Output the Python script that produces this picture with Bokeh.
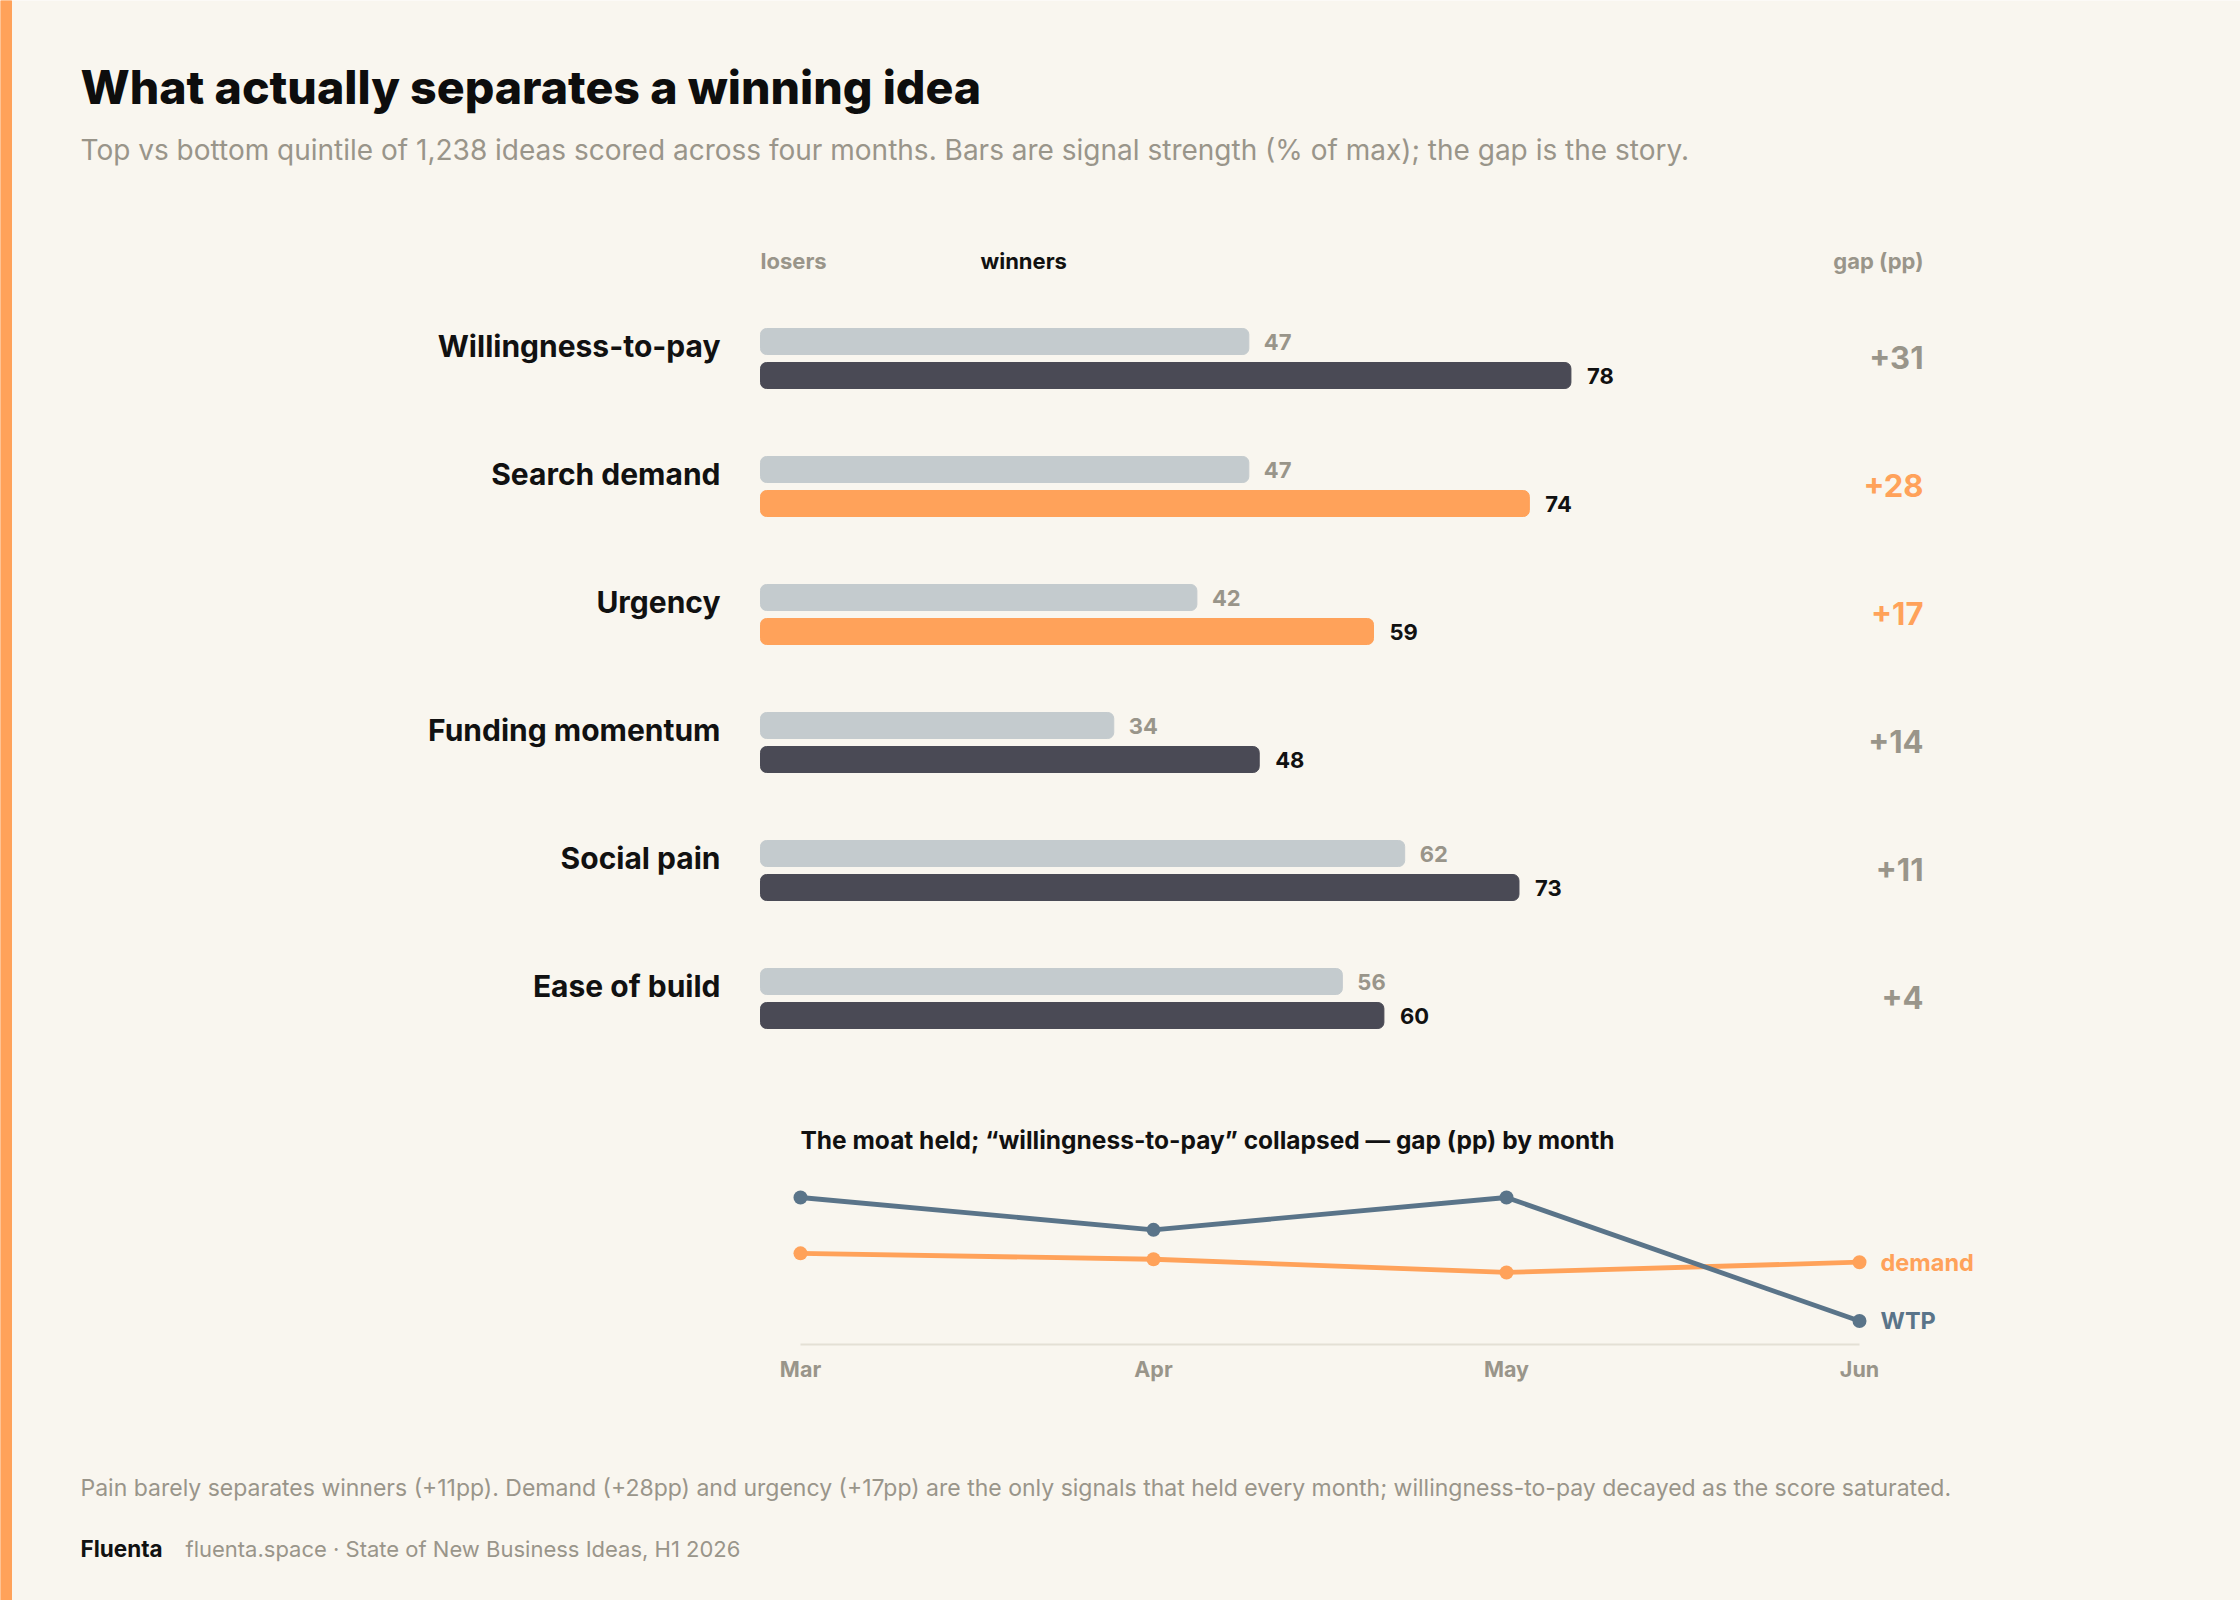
from bokeh.plotting import figure
from bokeh.models import ColumnDataSource, Range1d
from bokeh.core.properties import value
from bokeh.embed import file_html
from bokeh.resources import INLINE

# ---- data ----
signals = ["Willingness-to-pay", "Search demand", "Urgency",
           "Funding momentum", "Social pain", "Ease of build"]
losers = [47, 47, 42, 34, 62, 56]
winners = [78, 74, 59, 48, 73, 60]
gap_pp = [31, 28, 17, 14, 11, 4]
highlight = [False, True, True, False, False, False]

months = ["Mar", "Apr", "May", "Jun"]
gap_wtp = [50, 39, 50, 8]
gap_demand = [31, 29, 24.5, 28]

# ---- style ----
BG = "#f9f6ef"
ORANGE = "#ffa25a"
DARK = "#4a4a55"
LIGHT_BAR = "#c4cbce"
GREY_TXT = "#99958a"
INK = "#111111"
STEEL = "#5a7489"
FONT = value("Inter")
HEAVY = value("'Inter ExtraBold', Inter")

W, H = 2240, 1600

p = figure(width=W, height=H, x_range=Range1d(0, W), y_range=Range1d(H, 0),
           output_backend="svg", toolbar_location=None, min_border=0,
           x_axis_location=None, y_axis_location=None,
           outline_line_color=None, background_fill_color=BG,
           border_fill_color=BG)
p.grid.grid_line_color = None

# scales for the bar panel (score 0-100, one unit per signal row)
BAR_X0, BAR_PX = 760, 10.39
ROW_Y0, ROW_PX = 358, 128
p.extra_x_ranges["score"] = Range1d(-BAR_X0 / BAR_PX, (W - BAR_X0) / BAR_PX)
p.extra_y_ranges["row"] = Range1d((H - ROW_Y0) / ROW_PX, -ROW_Y0 / ROW_PX)

# scales for the monthly gap panel
MON_X0, MON_PX = 800, 353
GAP_Y0, GAP_PX = 1344, 2.94
p.extra_x_ranges["month"] = Range1d(-MON_X0 / MON_PX, (W - MON_X0) / MON_PX)
p.extra_y_ranges["gap"] = Range1d(-(H - GAP_Y0) / GAP_PX, GAP_Y0 / GAP_PX)

# accent strip on the left edge
p.quad(left=0, right=11, bottom=H, top=0, color=ORANGE)

# headline
p.text(x=[80], y=[86], text=["What actually separates a winning idea"],
       text_font=HEAVY, text_font_style="bold", text_font_size=value("46.5px"),
       text_color="#0d0d0d", text_baseline="middle")
p.text(x=[80], y=[149],
       text=["Top vs bottom quintile of 1,238 ideas scored across four months. "
             "Bars are signal strength (% of max); the gap is the story."],
       text_font=FONT, text_font_size=value("28px"), text_color=GREY_TXT,
       text_baseline="middle")

# column headers
hdr = dict(text_font=FONT, text_font_style="bold", text_font_size=value("22px"),
           text_baseline="middle")
p.text(x=[760], y=[260], text=["losers"], text_color=GREY_TXT, **hdr)
p.text(x=[980], y=[260], text=["winners"], text_color=INK, **hdr)
p.text(x=[1923], y=[260], text=["gap (pp)"], text_color=GREY_TXT,
       text_align="right", **hdr)

# bars
rows = list(range(len(signals)))
OFF = 17 / ROW_PX
src = ColumnDataSource(dict(
    row=rows,
    label_y=[r - 13 / ROW_PX for r in rows],
    gap_y=[r - 1.5 / ROW_PX for r in rows],
    lose_y=[r - OFF for r in rows],
    win_y=[r + OFF for r in rows],
    signal=signals,
    losers=losers,
    winners=winners,
    lose_txt=[str(v) for v in losers],
    win_txt=[str(v) for v in winners],
    gap_txt=["+%d" % g for g in gap_pp],
    win_color=[ORANGE if h else DARK for h in highlight],
    gap_color=[ORANGE if h else GREY_TXT for h in highlight],
))
bar_h = 26 / ROW_PX
p.hbar(y="lose_y", left=0, right="losers", height=bar_h, color=LIGHT_BAR,
       border_radius=6, x_range_name="score", y_range_name="row", source=src)
p.hbar(y="win_y", left=0, right="winners", height=bar_h, color="win_color",
       border_radius=6, x_range_name="score", y_range_name="row", source=src)

p.text(x=0, y="label_y", text="signal", x_offset=-40, text_align="right",
       text_baseline="middle", text_font=FONT, text_font_style="bold",
       text_font_size=value("30px"), text_color=INK,
       x_range_name="score", y_range_name="row", source=src)
p.text(x="losers", y="lose_y", text="lose_txt", x_offset=15,
       text_baseline="middle", text_font=FONT, text_font_style="bold",
       text_font_size=value("22px"), text_color=GREY_TXT,
       x_range_name="score", y_range_name="row", source=src)
p.text(x="winners", y="win_y", text="win_txt", x_offset=16,
       text_baseline="middle", text_font=FONT, text_font_style="bold",
       text_font_size=value("22px"), text_color=INK,
       x_range_name="score", y_range_name="row", source=src)
p.text(x=1923, y="gap_y", text="gap_txt", text_align="right",
       text_baseline="middle", text_font=FONT, text_font_style="bold",
       text_font_size=value("31px"), text_color="gap_color",
       y_range_name="row", source=src)

# monthly gap panel
p.text(x=[800], y=[1139],
       text=["The moat held; \u201cwillingness-to-pay\u201d collapsed \u2014 gap (pp) by month"],
       text_font=FONT, text_font_style="bold", text_font_size=value("24.5px"),
       text_color=INK, text_baseline="middle")

msrc = ColumnDataSource(dict(m=list(range(len(months))), month=months,
                             wtp=gap_wtp, demand=gap_demand))
p.segment(x0=0, x1=len(months) - 1, y0=0, y1=0, line_color="#e4e0d5",
          line_width=2, x_range_name="month", y_range_name="gap")
p.text(x="m", y=0, text="month", y_offset=24, text_align="center",
       text_baseline="middle", text_font=FONT, text_font_style="bold",
       text_font_size=value("21.5px"), text_color=GREY_TXT,
       x_range_name="month", y_range_name="gap", source=msrc)

for col, color, name in (("demand", ORANGE, "demand"), ("wtp", STEEL, "WTP")):
    p.line(x="m", y=col, line_color=color, line_width=4.8,
           x_range_name="month", y_range_name="gap", source=msrc)
    p.scatter(x="m", y=col, size=14, fill_color=color, line_color=None,
              x_range_name="month", y_range_name="gap", source=msrc)
    last = gap_wtp[-1] if col == "wtp" else gap_demand[-1]
    p.text(x=[len(months) - 1], y=[last], text=[name], x_offset=21,
           text_baseline="middle", text_font=FONT, text_font_style="bold",
           text_font_size=value("23.5px"), text_color=color,
           x_range_name="month", y_range_name="gap")

# footer
p.text(x=[80], y=[1487],
       text=["Pain barely separates winners (+11pp). Demand (+28pp) and urgency (+17pp) "
             "are the only signals that held every month; willingness-to-pay decayed "
             "as the score saturated."],
       text_font=FONT, text_font_size=value("23px"), text_color=GREY_TXT,
       text_baseline="middle")
p.text(x=[80], y=[1548], text=["Fluenta"], text_font=FONT,
       text_font_style="bold", text_font_size=value("22.5px"), text_color=INK,
       text_baseline="middle")
p.text(x=[185], y=[1548],
       text=["fluenta.space \u00b7 State of New Business Ideas, H1 2026"],
       text_font=FONT, text_font_size=value("22px"), text_color=GREY_TXT,
       text_baseline="middle")

open("out.html", "w").write(file_html(p, INLINE))
